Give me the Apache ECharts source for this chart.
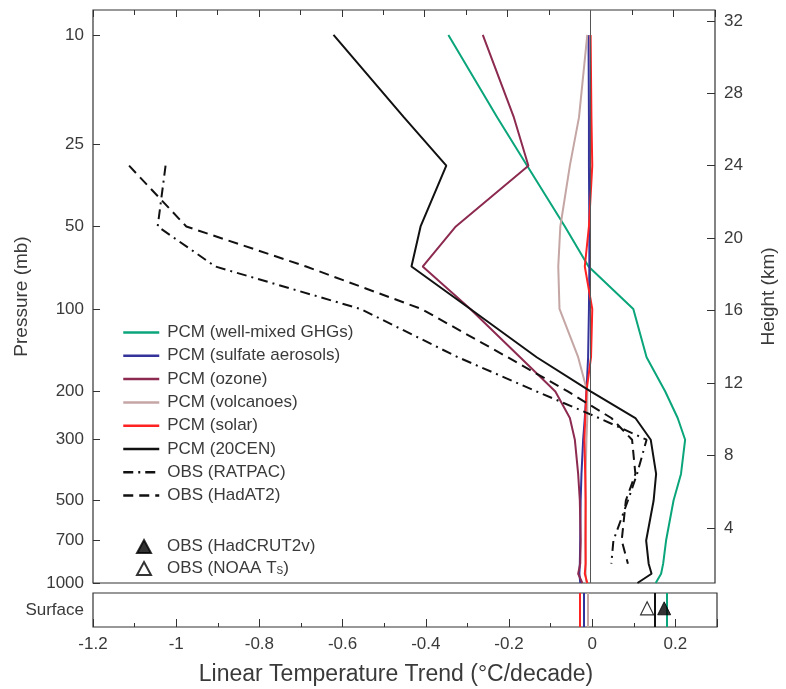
<!DOCTYPE html>
<html><head><meta charset="utf-8">
<script src="https://cdn.jsdelivr.net/npm/echarts@6/dist/echarts.min.js"></script>
<style>html,body{margin:0;padding:0;background:#fff}#c{width:786px;height:689px}</style>
</head><body><div id="c"></div>
<script>
// Pressure levels (mb)
const modelLevels = [10, 20, 30, 50, 70, 100, 150, 200, 250, 300, 400, 500, 700, 850, 925, 1000];
const obsLevels   = [30, 50, 70, 100, 150, 200, 250, 300, 400, 500, 700, 850];

// Linear temperature trends (°C/decade)
const ghgTrend      = [-0.343, -0.225, -0.153, -0.062, -0.005, 0.103, 0.135, 0.180, 0.210, 0.228, 0.218, 0.200, 0.182, 0.175, 0.170, 0.157];
const sulfateTrend  = [-0.005, -0.004, -0.004, -0.003, -0.003, -0.004, -0.006, -0.010, -0.014, -0.018, -0.022, -0.024, -0.025, -0.026, -0.027, -0.025];
const ozoneTrend    = [-0.260, -0.185, -0.150, -0.325, -0.405, -0.290, -0.170, -0.085, -0.050, -0.038, -0.030, -0.026, -0.024, -0.025, -0.030, -0.020];
const volcanoTrend  = [-0.008, -0.028, -0.050, -0.073, -0.078, -0.075, -0.030, -0.008, -0.008, -0.010, -0.012, -0.012, -0.013, -0.012, -0.012, -0.010];
const solarTrend    = [0.000, 0.002, 0.004, -0.004, -0.014, 0.004, 0.001, -0.010, -0.013, -0.015, -0.013, -0.012, -0.012, -0.012, -0.014, -0.008];
const cen20Trend    = [-0.620, -0.450, -0.348, -0.410, -0.432, -0.290, -0.130, 0.000, 0.108, 0.145, 0.158, 0.152, 0.134, 0.140, 0.147, 0.113];
const ratpacTrend   = [-1.025, -1.044, -0.905, -0.555, -0.320, -0.130, 0.020, 0.135, 0.112, 0.090, 0.055, 0.050];
const hadat2Trend   = [-1.113, -0.975, -0.686, -0.408, -0.200, -0.055, 0.050, 0.100, 0.108, 0.085, 0.075, 0.090];

// Surface trends
const surfaceModelNames  = ['PCM (solar)', 'PCM (sulfate aerosols)', 'PCM (volcanoes)', 'PCM (20CEN)', 'PCM (well-mixed GHGs)'];
const surfaceModelValues = [-0.029, -0.017, -0.005, 0.151, 0.178];
const hadcrutSurface = 0.173;
const noaaSurface    = 0.132;

// Axis tick labels
const pressureTicks = [10, 25, 50, 100, 200, 300, 500, 700, 1000];
const heightTicks   = [4, 8, 12, 16, 20, 24, 28, 32];

const colors = {
  'PCM (well-mixed GHGs)': '#0aa57a',
  'PCM (sulfate aerosols)': '#33339a',
  'PCM (ozone)': '#8c2a50',
  'PCM (volcanoes)': '#c4a6a4',
  'PCM (solar)': '#ff2222',
  'PCM (20CEN)': '#111111',
  'OBS (RATPAC)': '#111111',
  'OBS (HadAT2)': '#111111'
};

function pairs(vals, levels) { return vals.map((v, i) => [v, levels[i]]); }

const profileDefs = [
  ['PCM (well-mixed GHGs)', ghgTrend, modelLevels, 'solid'],
  ['PCM (sulfate aerosols)', sulfateTrend, modelLevels, 'solid'],
  ['PCM (ozone)', ozoneTrend, modelLevels, 'solid'],
  ['PCM (volcanoes)', volcanoTrend, modelLevels, 'solid'],
  ['PCM (solar)', solarTrend, modelLevels, 'solid'],
  ['PCM (20CEN)', cen20Trend, modelLevels, 'solid'],
  ['OBS (RATPAC)', ratpacTrend, obsLevels, [10, 5, 2, 5]],
  ['OBS (HadAT2)', hadat2Trend, obsLevels, [10, 6]]
];

const series = profileDefs.map(([name, vals, lev, type]) => ({
  name, type: 'line', xAxisIndex: 0, yAxisIndex: 0,
  data: pairs(vals, lev), showSymbol: false, symbol: 'none', smooth: false,
  lineStyle: { color: colors[name], width: 2, type },
  itemStyle: { color: colors[name] },
  z: name === 'PCM (20CEN)' ? 5 : 3
}));

// zero reference line in main panel
series.push({
  name: 'zero', type: 'line', xAxisIndex: 0, yAxisIndex: 0, data: [], silent: true,
  markLine: { silent: true, symbol: 'none', label: { show: false }, animation: false,
    lineStyle: { color: '#555', width: 1, type: 'solid' }, data: [{ xAxis: 0 }] },
  z: 1
});

// surface panel vertical lines
surfaceModelNames.forEach((n, i) => {
  series.push({
    name: 'surf ' + n, type: 'line', xAxisIndex: 2, yAxisIndex: 2, data: [], silent: true,
    markLine: { silent: true, symbol: 'none', label: { show: false }, animation: false,
      lineStyle: { color: colors[n], width: 2, type: 'solid' }, data: [{ xAxis: surfaceModelValues[i] }] }
  });
});

series.push({
  name: 'OBS (HadCRUT2v)', type: 'scatter', xAxisIndex: 2, yAxisIndex: 2,
  data: [[hadcrutSurface, 0.55]], symbol: 'triangle', symbolSize: 13,
  itemStyle: { color: '#000', borderColor: '#000', borderWidth: 1 }, z: 6
});
series.push({
  name: 'OBS (NOAA Ts)', type: 'scatter', xAxisIndex: 2, yAxisIndex: 2,
  data: [[noaaSurface, 0.55]], symbol: 'triangle', symbolSize: 13,
  itemStyle: { color: '#fff', borderColor: '#000', borderWidth: 1.2 }, z: 6
});

const txt = '#3a3a3a';
const font = 'Liberation Sans, Arial, sans-serif';

const xCommon = { type: 'value', min: -1.2, max: 0.3, interval: 0.2, splitLine: { show: false } };

const option = {
  animation: false,
  textStyle: { fontFamily: font },
  grid: [
    { left: 93, right: 69, top: 10, height: 573, show: true, borderColor: '#333', borderWidth: 1.2, backgroundColor: 'transparent' },
    { left: 93, right: 69, top: 593, height: 34, show: true, borderColor: '#333', borderWidth: 1.2, backgroundColor: 'transparent' }
  ],
  xAxis: [
    Object.assign({}, xCommon, { gridIndex: 0, position: 'bottom', axisLine: { show: false, onZero: false }, axisTick: { show: false }, axisLabel: { show: false } }),
    Object.assign({}, xCommon, { gridIndex: 0, position: 'top', axisLine: { show: false, onZero: false },
      axisTick: { show: true, inside: true, length: 7, lineStyle: { color: '#333' } },
      minorTick: { show: true, splitNumber: 2, length: 5, lineStyle: { color: '#333' } },
      axisLabel: { show: false } }),
    Object.assign({}, xCommon, { gridIndex: 1, position: 'bottom', axisLine: { show: false, onZero: false },
      axisTick: { show: true, inside: true, length: 8, lineStyle: { color: '#333' } },
      minorTick: { show: true, splitNumber: 2, length: 4, lineStyle: { color: '#333' } },
      axisLabel: { show: true, showMaxLabel: false, color: txt, fontSize: 17, margin: 9, fontFamily: font },
      name: 'Linear Temperature Trend (°C/decade)', nameLocation: 'middle', nameGap: 36,
      nameTextStyle: { color: txt, fontSize: 23, fontFamily: font, padding: [0, 18, 0, 0] } })
  ],
  yAxis: [
    { type: 'log', gridIndex: 0, position: 'left', inverse: true, min: 8.11, max: 1000, logBase: 10,
      splitLine: { show: false }, axisLine: { show: false, onZero: false },
      axisTick: { show: true, inside: true, length: 7, customValues: pressureTicks, lineStyle: { color: '#333' } },
      axisLabel: { show: true, customValues: pressureTicks, formatter: v => String(v), color: txt, fontSize: 17, margin: 9, fontFamily: font },
      name: 'Pressure (mb)', nameLocation: 'middle', nameGap: 62,
      nameTextStyle: { color: txt, fontSize: 19, fontFamily: font } },
    { type: 'value', gridIndex: 0, position: 'right', min: 0.96, max: 32.6,
      splitLine: { show: false }, axisLine: { show: false, onZero: false },
      axisTick: { show: true, inside: true, length: 8, customValues: heightTicks, lineStyle: { color: '#333' } },
      axisLabel: { show: true, customValues: heightTicks, color: txt, fontSize: 17, margin: 9, fontFamily: font },
      name: 'Height (km)', nameLocation: 'middle', nameGap: 44,
      nameTextStyle: { color: txt, fontSize: 19, fontFamily: font } },
    { type: 'value', gridIndex: 1, min: 0, max: 1, position: 'left',
      splitLine: { show: false }, axisLine: { show: false, onZero: false }, axisTick: { show: false },
      axisLabel: { show: true, customValues: [0.5], formatter: () => 'Surface', color: txt, fontSize: 17, margin: 9, fontFamily: font } }
  ],
  legend: [
    { orient: 'vertical', left: 117, top: 319, itemWidth: 36, itemHeight: 14, itemGap: 6.3,
      data: profileDefs.map(d => d[0]),
      itemStyle: { opacity: 0 },
      lineStyle: { width: 2.5 },
      textStyle: { color: txt, fontSize: 17, lineHeight: 16, fontFamily: font, padding: [0, 0, 0, 3] } },
    { orient: 'vertical', left: 131, top: 533, itemWidth: 14, itemHeight: 13, itemGap: 5,
      data: ['OBS (HadCRUT2v)', 'OBS (NOAA Ts)'],
      formatter: n => n === 'OBS (NOAA Ts)' ? 'OBS (NOAA T{sub|S})' : n,
      textStyle: { color: txt, fontSize: 17, lineHeight: 16, fontFamily: font, padding: [0, 0, 0, 11],
        rich: { sub: { fontSize: 10, verticalAlign: 'bottom', padding: [8, 0, 0, 0], color: txt } } } }
  ],
  series
};

const chart = echarts.init(document.getElementById('c'), null, { renderer: 'canvas' });
chart.setOption(option);
</script></body></html>
